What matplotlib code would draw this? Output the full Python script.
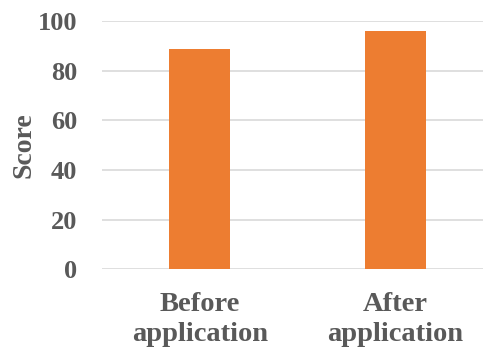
import matplotlib.pyplot as plt

categories = ["Before\napplication", "After\napplication"]
scores = [88.7, 96.0]
yticks = [0, 20, 40, 60, 80, 100]

plt.rcParams['font.family'] = ['Liberation Serif', 'DejaVu Serif']
plt.rcParams['font.weight'] = 'bold'

grey = '#595959'
fig = plt.figure(figsize=(4.83, 3.53), dpi=100)
ax = fig.add_axes([0.2112, 0.2371, 0.8095, 0.7034])

x = range(len(categories))
ax.bar(x, scores, width=0.31, color='#ED7D31', zorder=3)

ax.set_xlim(-0.5, len(categories) - 0.5)
ax.set_ylim(0, 100)
ax.set_yticks(yticks)
ax.set_xticks(list(x))
ax.set_xticklabels(categories, fontsize=20.5, color=grey, fontweight='bold', linespacing=1.3)
ax.set_yticklabels([str(v) for v in yticks], fontsize=19, color=grey, fontweight='bold')
ax.set_ylabel("Score", fontsize=20, color=grey, fontweight='bold', labelpad=1)

ax.grid(axis='y', color='#d9d9d9', linewidth=1.2, zorder=0)
for s in ax.spines.values():
    s.set_visible(False)
ax.tick_params(axis='both', length=0)
ax.tick_params(axis='y', pad=18)
ax.tick_params(axis='x', pad=16)

fig.savefig('out.png', dpi=100)
